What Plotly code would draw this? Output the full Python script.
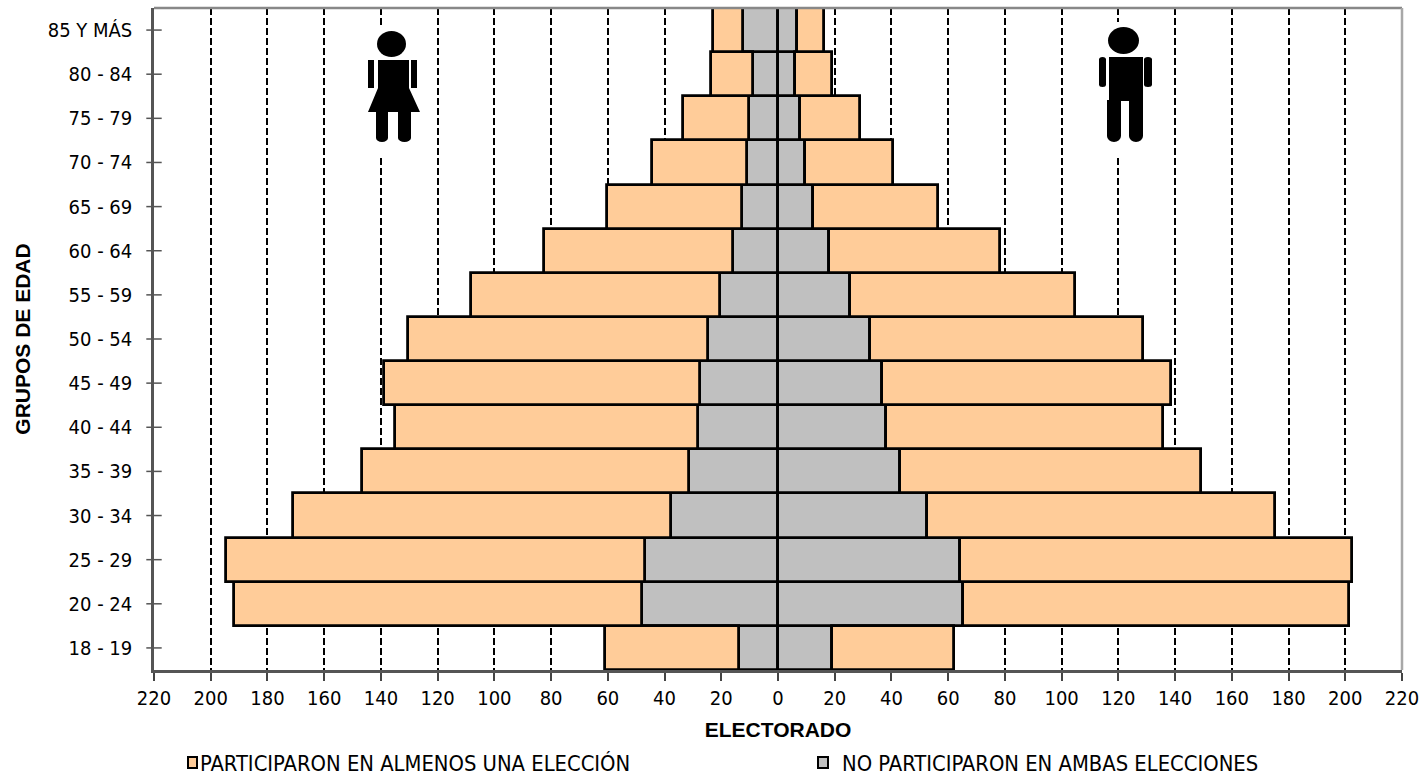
import plotly.graph_objects as go

categories = ["18 - 19", "20 - 24", "25 - 29", "30 - 34", "35 - 39", "40 - 44", "45 - 49", "50 - 54",
              "55 - 59", "60 - 64", "65 - 69", "70 - 74", "75 - 79", "80 - 84", "85 Y MÁS"]
women_total = [61, 191.8, 194.6, 171, 146.7, 135, 138.9, 130.5, 108.3, 82.5, 60.3, 44.4, 33.5, 23.6, 22.9]
women_none = [13.8, 48, 46.9, 37.7, 31.4, 28.2, 27.5, 24.7, 20.5, 15.9, 12.7, 10.9, 10.2, 8.8, 12.3]
men_total = [62, 201.3, 202.4, 175.2, 149.2, 135.8, 138.6, 128.7, 104.7, 78.3, 56.4, 40.6, 28.9, 19, 16.2]
men_none = [19, 65.2, 64.2, 52.5, 43, 38, 36.7, 32.4, 25.4, 18, 12.3, 9.5, 7.8, 6, 6.7]
tick_values = list(range(-220, 221, 20))
tick_labels = [str(abs(v)) for v in tick_values]
name_part = "PARTICIPARON EN ALMENOS UNA ELECCIÓN"
name_none = "NO PARTICIPARON EN AMBAS ELECCIONES"

W, H = 1426, 776
L, R, T, B = 154, 1402, 8, 670
FONT = "DejaVu Sans Condensed, DejaVu Sans, sans-serif"
ORANGE, GRAY = "#FFCC99", "#C0C0C0"
edge = dict(color="black", width=2.8)

def bar(vals, color, name):
    return go.Bar(y=categories, x=vals, orientation="h", name=name, showlegend=False,
                  marker=dict(color=color, line=edge))

fig = go.Figure()
fig.add_trace(bar([-v for v in women_none], GRAY, name_none))
fig.add_trace(bar([-(t - n) for t, n in zip(women_total, women_none)], ORANGE, name_part))
fig.add_trace(bar(men_none, GRAY, name_none))
fig.add_trace(bar([t - n for t, n in zip(men_total, men_none)], ORANGE, name_part))
fig.add_trace(go.Scatter(y=categories, x=[-220] * len(categories), mode="markers", showlegend=False,
                         hoverinfo="skip", cliponaxis=False,
                         marker=dict(symbol="line-ew", size=11, line=dict(color="#555555", width=1.5))))

fx = lambda p: (p - L) / (R - L)
fy = lambda p: (B - p) / (B - T)

def rect(x0, y0, x1, y1, color="black"):
    return dict(type="rect", xref="paper", yref="paper", x0=fx(x0), x1=fx(x1), y0=fy(y1), y1=fy(y0),
                fillcolor=color, line=dict(width=0))

def circ(x0, y0, x1, y1):
    return dict(type="circle", xref="paper", yref="paper", x0=fx(x0), x1=fx(x1), y0=fy(y1), y1=fy(y0),
                fillcolor="black", line=dict(width=0))

def poly(pts):
    d = "M " + " L ".join(f"{fx(x):.5f} {fy(y):.5f}" for x, y in pts) + " Z"
    return dict(type="path", xref="paper", yref="paper", path=d, fillcolor="black", line=dict(width=0))

def line(x0, y0, x1, y1, color, width):
    return dict(type="line", xref="paper", yref="paper", x0=fx(x0), x1=fx(x1), y0=fy(y0), y1=fy(y1),
                line=dict(color=color, width=width))

shapes = [
    line(L, T, R, T, "#888888", 2.5),
    line(R, T, R, B, "#A8A8A8", 2.5),
    # woman
    rect(364, 26, 420, 157, "white"),
    circ(377, 31, 406, 57),
    rect(368, 60, 374, 88), rect(411, 60, 417, 88),
    poly([(378, 60), (409, 60), (409, 88), (420, 112), (368, 112), (378, 88)]),
    rect(376, 112, 388, 138), rect(398, 112, 411, 138),
    circ(376, 134, 388, 142), circ(398, 134, 411, 142),
    # man
    rect(1096, 22, 1154, 157, "white"),
    circ(1108, 27, 1139, 54),
    rect(1109, 57, 1143, 101),
    rect(1099, 59, 1106, 85), rect(1144, 59, 1152, 85),
    circ(1099, 57, 1106, 62), circ(1144, 57, 1152, 62),
    circ(1099, 82, 1106, 87), circ(1144, 82, 1152, 87),
    rect(1107, 100, 1121, 136), rect(1129, 100, 1143, 136),
    circ(1107, 130, 1121, 142), circ(1129, 130, 1143, 142),
    # legend swatches
    rect(187, 756, 198, 769, "black"), rect(189, 758, 196, 767, ORANGE),
    rect(817, 756, 829, 769, "black"), rect(819, 758, 827, 767, GRAY),
]

annotations = [
    dict(text=name_part, xref="paper", yref="paper", x=fx(198), y=fy(763), xanchor="left", yanchor="middle",
         showarrow=False, font=dict(family=FONT, size=21.8, color="black")),
    dict(text=name_none, xref="paper", yref="paper", x=fx(840), y=fy(763), xanchor="left", yanchor="middle",
         showarrow=False, font=dict(family=FONT, size=21.8, color="black")),
]

fig.update_layout(
    width=W, height=H, barmode="relative", bargap=0, showlegend=False,
    paper_bgcolor="white", plot_bgcolor="white",
    margin=dict(l=L, r=W - R, t=T, b=H - B, pad=0),
    font=dict(family=FONT, size=20, color="black"),
    shapes=shapes, annotations=annotations,
    xaxis=dict(range=[-220, 220], tickvals=tick_values, ticktext=tick_labels, ticks="outside", ticklen=8,
               tickwidth=1.5, tickcolor="#444444", showline=True, linecolor="#555555", linewidth=2.5,
               showgrid=True, gridcolor="black", gridwidth=2, griddash="7px,3px", zeroline=False,
               tickfont=dict(size=20), title=dict(text="<b>ELECTORADO</b>", standoff=14,
               font=dict(family="Liberation Sans, sans-serif", size=21))),
    yaxis=dict(type="category", categoryorder="array", categoryarray=categories, range=[-0.5, 14.5],
               ticks="", showline=True, linecolor="#555555", linewidth=2.5, showgrid=False, zeroline=False,
               ticklabelstandoff=15, tickfont=dict(size=20),
               title=dict(text="<b>GRUPOS DE EDAD</b>", standoff=12,
               font=dict(family="Liberation Sans, sans-serif", size=21))),
)

fig.write_html("out.html", post_script="document.body.style.margin='0';",
               config={"displayModeBar": False})
